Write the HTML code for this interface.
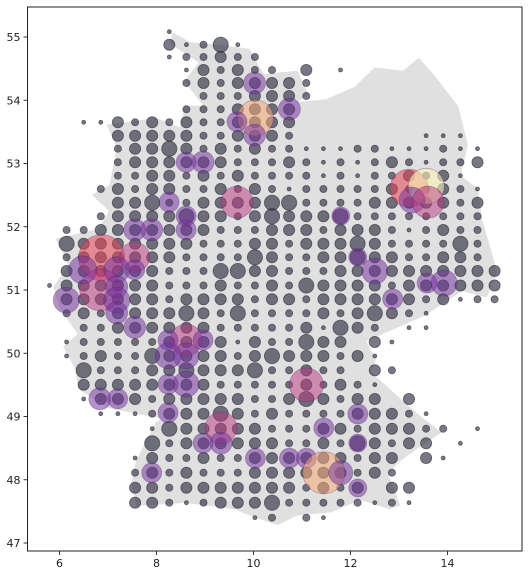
<!DOCTYPE html>
<html><head><meta charset="utf-8">
<style>
html,body{margin:0;padding:0;background:#fff;}
svg{display:block;font-family:"DejaVu Sans","Liberation Sans",sans-serif;}
</style></head>
<body>
<svg id="chart" width="529" height="575" viewBox="0 0 529 575" xmlns="http://www.w3.org/2000/svg">
<g id="map"></g>
<g id="dots"></g>
<g id="hl"></g>
<g id="axes"></g>
</svg>
<script>
// ---- data ----
const xTicks = [6, 8, 10, 12, 14];
const yTicks = [47, 48, 49, 50, 51, 52, 53, 54, 55];
const colLon0 = 5.793, colStep = 0.353;
const rowLats = [55.084,54.878,54.684,54.478,54.273,54.067,53.857,53.651,53.440,53.234,53.019,52.807,52.597,52.380,52.165,51.949,51.732,51.517,51.300,51.071,50.853,50.632,50.404,50.178,49.957,49.731,49.503,49.277,49.045,48.807,48.577,48.344,48.112,47.875,47.637,47.400];
const rowSizes = [
".......1...................",
".......31241...............",
".......122322..............",
"........132322.3.1.........",
"........23233332...........",
".........2223332...........",
"........2223333............",
"..1132323223333............",
"....33333223332.......111..",
"....2334323232211122111211.",
"....2333333222321212321223.",
"....223323232222121223231..",
"...23233223232122222322321.",
"....3342233334422223333323.",
"...23333433234333422222222.",
".2233333332223332333212322.",
".4333333322233233343222242.",
".2333333222243223343322332.",
".33333322244332223333333333",
"133333322232232433332333333",
".33333323333233233333323122",
".2323333432422223234321....",
"..223333332222231432 11....",
".12222233331322433 31......",
".1232243333234333231.......",
"..4222334333422322 32......",
"..333333332222232321.......",
"..133323333322343233 3.....",
"...11123334323222233321....",
"......143333322233233322 1.",
"......42333333223243233 1..",
".....1322322333333233 31...",
".....2323222333333232......",
".....33233333332323 33.....",
".....33212333422222121.....",
"............12.21.........."
];
const hlLon = [10.02,10.04,10.02,9.66,10.74,8.96,8.61,9.66,8.26,7.90,8.61,8.61,6.87,6.85,6.48,7.55,7.18,7.55,7.18,7.18,6.14,7.18,7.55,7.55,13.21,13.56,13.27,13.60,11.80,12.15,12.50,13.58,13.93,12.87,8.61,8.61,8.24,8.96,8.24,8.61,8.24,8.24,9.33,9.33,8.96,10.04,7.90,6.83,7.20,11.09,12.15,11.45,12.15,10.74,11.09,11.45,11.80,12.15];
const hlLat = [54.27,53.72,53.45,53.66,53.86,53.02,53.02,52.39,52.39,51.95,51.95,52.17,51.51,51.00,51.32,51.52,51.32,51.32,51.05,50.84,50.84,50.64,50.41,51.95,52.61,52.64,52.42,52.39,52.17,51.52,51.30,51.11,51.11,50.86,50.21,49.96,49.96,50.21,50.21,49.51,49.51,49.06,48.82,48.58,48.58,48.34,48.11,49.28,49.28,49.50,49.04,48.82,48.58,48.34,48.34,48.11,48.11,47.87];
const hlVal = ["p","o","p","p","p","p","p","k","p","p","p","p","r","k","p","k","p","p","p","p","p","p","p","p","r","y","p","k","p","p","p","p","p","p","k","p","p","p","p","p","p","p","k","p","p","p","p","p","p","k","p","p","p","p","p","o","p","p"];
const hlSize = [11,18,11,10,11,11,10,16,10,11,10,10,23,21,14,15,13,10,11,13,13,11,11,11,19,18,13,16,9,9,13,10,13,10,16,13,13,10,10,13,10,10,16,11,10,10,10,11,10,17,10,10,9,10,10,21,12,9];
const borderLon = [8.35,8.7,9.4,9.9,10.2,10.9,11.1,10.85,11.5,12.1,12.5,13.1,13.4,13.7,14.2,14.4,14.25,14.6,14.7,15.0,14.8,14.3,13.5,12.9,12.3,12.5,12.4,12.9,13.5,13.85,13.45,13.0,12.75,13.0,12.8,12.2,11.6,10.9,10.5,10.1,9.6,8.6,7.6,7.5,7.6,8.0,8.2,7.0,6.4,6.35,6.1,6.4,6.0,5.9,6.2,5.95,6.8,7.05,6.7,7.05,7.2,7.0,8.0,8.5,8.6,9.0,8.6,8.9,8.3];
const borderLat = [55.05,54.9,54.85,54.8,54.4,54.45,54.1,53.95,54.0,54.2,54.5,54.45,54.65,54.4,53.9,53.3,52.8,52.6,52.1,51.3,50.9,51.0,50.6,50.4,50.2,49.9,49.7,49.35,48.95,48.75,48.55,48.3,48.1,47.6,47.55,47.7,47.5,47.45,47.3,47.4,47.55,47.65,47.6,47.95,48.3,48.9,48.97,49.15,49.45,49.75,50.1,50.3,50.75,51.05,51.4,51.8,51.95,52.25,52.5,52.65,53.25,53.6,53.7,53.55,53.9,53.9,54.3,54.6,54.9];
// ---- axes ----
const L=27.5,R=522,T=7,B=551;
function X(lon){return 59.5+(lon-6)*48.5;}
function Y(lat){return 37+(55-lat)*63.25;}
const NS="http://www.w3.org/2000/svg";
function mk(tag,parent,attrs){const e=document.createElementNS(NS,tag);for(const k in attrs)e.setAttribute(k,attrs[k]);parent.appendChild(e);return e;}
const mapG=document.getElementById('map');
let pts=borderLon.map((lo,i)=>X(lo).toFixed(1)+","+Y(borderLat[i]).toFixed(1)).join(" ");
const poly=mk('polygon',mapG,{points:pts,fill:"#e0e0e0",stroke:"#e0e0e0","stroke-width":"2"});


const radii={"1":2,"2":3.6,"3":5.6,"4":7.6};
const dotsG=document.getElementById('dots');
rowSizes.forEach((s,ri)=>{
  for(let c=0;c<s.length&&c<27;c++){
    const ch=s[c]; if(!radii[ch]) continue;
    const d=mk('circle',dotsG,{cx:X(colLon0+colStep*c).toFixed(1),cy:Y(rowLats[ri]).toFixed(1),r:radii[ch],fill:"rgba(45,45,65,0.64)",stroke:"rgba(25,25,35,0.55)","stroke-width":"0.8"});
    
    
  }
});
const cols={p:"rgba(115,50,155,0.52)",k:"rgba(185,55,125,0.5)",r:"rgba(230,70,85,0.55)",o:"rgba(245,170,120,0.55)",y:"rgba(250,245,180,0.6)"};
const hlG=document.getElementById('hl');
hlLon.forEach((lo,i)=>{
  const h=mk('circle',hlG,{cx:X(lo).toFixed(1),cy:Y(hlLat[i]).toFixed(1),r:hlSize[i],fill:cols[hlVal[i]],stroke:"rgba(80,30,110,0.35)","stroke-width":"0.8"});
  
  
});
const ax=document.getElementById('axes');
const fr=mk('rect',ax,{x:L,y:T,width:R-L,height:B-T,fill:"none",stroke:"#222","stroke-width":"1"});


xTicks.forEach(v=>{
  const x=X(v);
  mk('line',ax,{x1:x,x2:x,y1:B,y2:B+4,stroke:"#222","stroke-width":"0.9"});
  const t=mk('text',ax,{x:x,y:B+16,"text-anchor":"middle","font-size":"11",fill:"#222"});
  t.textContent=v;
  
  
});
yTicks.forEach(v=>{
  const y=Y(v);
  mk('line',ax,{x1:L-4,x2:L,y1:y,y2:y,stroke:"#222","stroke-width":"0.9"});
  const t=mk('text',ax,{x:L-7,y:y+4,"text-anchor":"end","font-size":"11",fill:"#222"});
  t.textContent=v;
  
  
});
</script>
</body></html>
